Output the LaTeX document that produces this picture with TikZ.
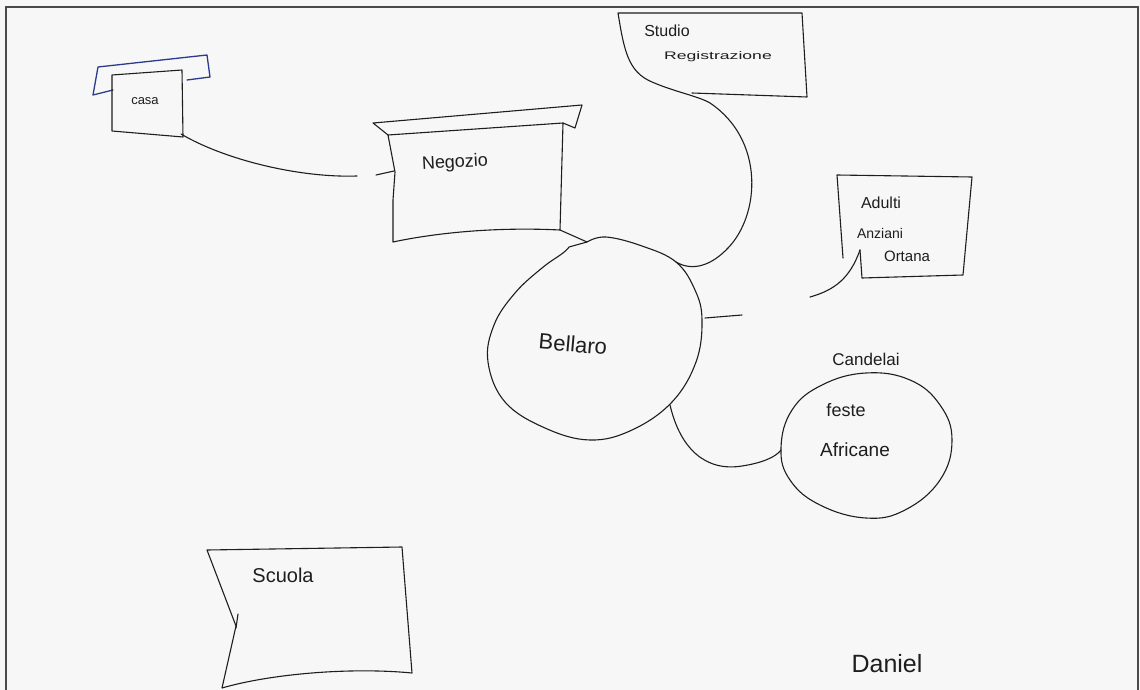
\documentclass[tikz,border=0pt]{standalone}
\usepackage{fontspec}
\setmainfont{Liberation Sans}
\definecolor{paper}{HTML}{F7F7F7}
\definecolor{inkblack}{HTML}{1E1E1E}
\definecolor{inkblue}{HTML}{2B3A8C}
\definecolor{framegray}{HTML}{4A4A4A}
\begin{document}
\begin{tikzpicture}[x=1pt,y=-1pt,
  ink/.style={draw=inkblack, line width=1.1pt, line join=round, line cap=round},
  blueink/.style={draw=inkblue, line width=1.3pt, line join=round, line cap=round},
  lbl/.style={text=inkblack, inner sep=0pt, font=\fontsize{#1}{#1}\selectfont},
  lbl/.default=14]
% sheet and its frame
\fill[paper] (0,0) rectangle (1140,690);
\useasboundingbox (0,0) rectangle (1140,690);
\draw[framegray, line width=2pt] (6,690) -- (6,7) -- (1138,7) -- (1138,690);

% ---- casa: awning and box
\draw[blueink] (113,90) -- (93,95) -- (98,67) -- (207,55) -- (210,77) -- (187,80);
\draw[ink] (112,75) -- (182,70) -- (183,137) -- (112,131) -- cycle;
\node[lbl=13] (casa) at (145,101) {casa};
\coordinate (casaout) at (181,134);

% ---- negozio: awning and box
\draw[ink] (388,135) -- (373,123) -- (582,105) -- (575,128) -- (563,123);
\draw[ink] (388,135) -- (563,123) -- (560,230)
  .. controls (500,227) and (440,232) .. (393,242)
  -- (393,200) -- (395,172) -- cycle;
\node[lbl=18, rotate=3] (negozio) at (455,163) {Negozio};
\coordinate (negin) at (394,171);
\coordinate (negout) at (560,230);

% ---- studio registrazione
\draw[ink] (692,93) -- (807,97) -- (802,13) -- (618,13)
  .. controls (624,50) and (628,72) .. (652,82)
  .. controls (675,92) and (698,96) .. (710,103);
\coordinate (studioout) at (710,103);
\node[lbl=16] (studio) at (667,31) {Studio};
\node[lbl=11] (registrazione) at (718,57) {\scalebox{1.6}[1]{Registrazione}};

% ---- adulti anziani
\draw[ink] (843,258) -- (837,175) -- (972,177) -- (963,275) -- (862,278) -- (860,250);
\coordinate (adultiin) at (860,250);
\node[lbl=16] (adulti) at (881,203) {Adulti};
\node[lbl=14] (anziani) at (880,233) {Anziani};
\node[lbl=15] (ortana) at (907,256) {Ortana};

% ---- bellaro
\draw[ink] plot[smooth, tension=0.65] coordinates {
  (587,242) (606,237) (642,246) (676,262) (695,290) (702,320) (696,362)
  (672,402) (632,430) (590,440) (545,428) (505,402) (488,362) (494,325)
  (515,293) (542,268) (563,253) (569,247)} -- cycle;
\node[lbl=22, rotate=-5] (bellaro) at (573,344) {Bellaro};
\coordinate (belltop) at (587,242);
\coordinate (bellne) at (676,262);
\coordinate (belleast) at (705,318);
\coordinate (bellse) at (670,405);

% ---- candelai feste africane
\draw[ink] plot[smooth cycle, tension=0.7] coordinates {
  (781,448) (792,410) (822,385) (866,373) (910,380) (940,405) (952,440)
  (940,480) (905,510) (866,518) (820,505) (790,480)};
\coordinate (candin) at (781,450);
\node[lbl=17] (candelai) at (866,359) {Candelai};
\node[lbl=18] (feste) at (846,410) {feste};
\node[lbl=19] (africane) at (855,450) {Africane};

% ---- scuola
\draw[ink] (207,550) -- (402,547) -- (412,673)
  .. controls (350,667) and (270,674) .. (222,688)
  -- (236,626) -- (207,550);
\draw[ink] (238,614) -- (236,628);
\node[lbl=20] (scuola) at (283,575) {Scuola};

% ---- signature
\node[lbl=25] (daniel) at (887,664) {Daniel};

% ---- connectors
\coordinate (casamid) at (357,176);
\coordinate (casamid2) at (376,175);
\draw[ink] (casaout) .. controls (225,160) and (300,178) .. (casamid);
\draw[ink] (casamid2) -- (negin);
\draw[ink] (negout) -- (belltop);
\draw[ink] (studioout) .. controls (765,140) and (760,215) .. (728,248)
  .. controls (712,265) and (693,272) .. (bellne);
\coordinate (adultiend) at (810,297);
\coordinate (bellstub) at (742,315);
\draw[ink] (belleast) -- (bellstub);
\draw[ink] (adultiin) .. controls (850,278) and (835,290) .. (adultiend);
\draw[ink] (bellse) .. controls (680,448) and (705,472) .. (742,466)
  .. controls (762,463) and (776,457) .. (candin);
\end{tikzpicture}
\end{document}
